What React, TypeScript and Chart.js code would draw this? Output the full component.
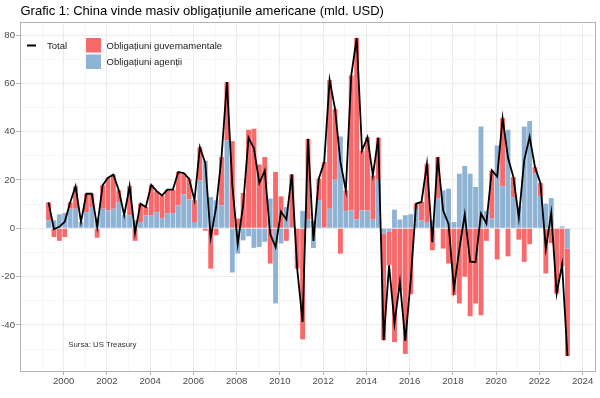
import React, { useEffect, useRef } from 'react';
import { Chart, registerables } from 'chart.js';

Chart.register(...registerables);

const FONT = "'Liberation Sans', Arial, sans-serif";

const TITLE = 'Grafic 1: China vinde masiv obligațiunile americane (mld. USD)';
const SOURCE = 'Sursa: US Treasury';
const LABEL_GOV = 'Obligațiuni guvernamentale';
const LABEL_AGENCY = 'Obligațiuni agenții';
const LABEL_TOTAL = 'Total';

const RED = '#F8696B';
const BLUE = '#8FB3D4';

// Quarters: 1999 T2 ... 2023 T2
const FIRST_YEAR = 1999;
const FIRST_QUARTER = 2;
const N_QUARTERS = 97;
const quarters: string[] = [];
for (let k = 0; k < N_QUARTERS; k++) {
  const q0 = FIRST_QUARTER - 1 + k;
  quarters.push(`${FIRST_YEAR + Math.floor(q0 / 4)}T${(q0 % 4) + 1}`);
}
const quarterToYear = (s: string) => {
  const [y, q] = s.split('T').map(Number);
  return y + (q - 1) * 0.25 + 0.05;
};

// Obligațiuni agenții (blue)
const agencies = [
  3.3, 3.3, 5.8, 6.3, 8.1, 8.1, 2.6, 6.7, 8.8, 4.4,
  8.1, 7.4, 8.1, 10.9, 5.4, 5.4, 3.3, 2.6, 5.4, 5.4,
  6.7, 4.0, 6.3, 6.3, 9.5, 14.0, 12.0, 2.6, 19.8, 28.0,
  12.9, 11.6, 9.5, 36.4, -18.3, -10.5, -5.0, -3.3, -8.1, -7.7,
  -5.6, 12.3, -31.1, -6.3, 8.8, 0.5, 0.0, 7.2, 3.6, -8.2,
  11.6, 0.5, 8.1, 20.1, 38.0, 7.2, 7.4, 3.6, 7.4, 7.4,
  3.6, 20.1, -2.2, -1.5, 7.7, 3.6, 5.4, 5.8, 8.0, 3.3,
  2.6, 3.3, 12.3, 15.7, 16.4, 2.6, 22.6, 25.8, 22.6, 17.1,
  42.1, 7.2, 4.0, 34.3, 17.4, 40.8, 12.9, 9.1, 42.1, 44.4,
  22.6, 13.2, 10.2, 12.5, 0.0, 0.8, -8.4,
];

// Obligațiuni guvernamentale (red)
const treasuries = [
  7.4, -3.6, -5.2, -3.6, 2.6, 9.3, 0.0, 7.6, 5.5, -3.9,
  9.7, 13.5, 14.1, 4.8, 0.0, 12.1, -5.2, 7.6, 3.4, 12.6,
  8.7, 9.6, 9.7, 9.7, 13.8, 8.9, 8.5, 9.0, 13.8, -1.0,
  -16.7, -2.9, 20.0, 24.1, 36.1, 4.0, 14.6, 40.8, 41.2, 26.4,
  29.5, -14.6, 23.3, 13.2, -5.2, 21.8, -16.7, -46.0, 33.4, 3.0,
  8.9, 26.9, 53.3, 29.3, -10.5, 8.5, 55.8, 75.2, 24.8, 30.3,
  18.3, 17.4, -44.1, -13.8, -47.1, -25.8, -52.0, -27.3, 2.2, 7.6,
  24.1, -9.1, 17.2, -8.4, -14.6, -27.7, -31.1, -20.1, -36.4, -31.1,
  -36.0, -5.2, 20.0, -12.9, 28.2, -11.6, 8.3, -4.7, -13.9, -6.6,
  2.7, 5.5, -18.7, -6.1, -27.0, -15.8, -44.5,
];

// Total (black line)
const totals = [
  10.7, -0.3, 0.6, 2.7, 10.7, 17.4, 2.6, 14.3, 14.3, 0.5,
  17.8, 20.9, 22.2, 15.7, 5.4, 17.5, -1.9, 10.2, 8.8, 18.0,
  15.4, 13.6, 16.0, 16.0, 23.3, 22.9, 20.5, 11.6, 33.6, 27.0,
  -3.8, 8.7, 29.5, 60.5, 17.8, -6.5, 9.6, 37.5, 33.1, 18.7,
  23.9, -2.3, -7.8, 6.9, 3.6, 22.3, -16.7, -38.8, 37.0, -5.2,
  20.5, 27.4, 61.4, 49.4, 27.5, 15.7, 63.2, 78.8, 32.2, 37.7,
  21.9, 37.5, -46.3, -15.3, -39.4, -22.2, -46.6, -21.5, 10.2, 10.9,
  26.7, -5.8, 29.5, 7.3, 1.8, -25.1, -8.5, 5.7, -13.8, -14.0,
  6.1, 2.0, 24.0, 21.4, 45.6, 29.2, 21.2, 4.4, 28.2, 37.8,
  25.3, 18.7, -8.5, 6.4, -27.0, -15.0, -52.9,
];

const xTickValues = [1999, 2000, 2001, 2002, 2003, 2004, 2005, 2006, 2007, 2008, 2009, 2010, 2011, 2012, 2013, 2014, 2015, 2016, 2017, 2018, 2019, 2020, 2021, 2022, 2023, 2024];
const xLabelled = [2000, 2002, 2004, 2006, 2008, 2010, 2012, 2014, 2016, 2018, 2020, 2022, 2024];
const yTickValues = [-50, -40, -30, -20, -10, 0, 10, 20, 30, 40, 50, 60, 70, 80];
const yLabelled = [-40, -20, 0, 20, 40, 60, 80];

const X_MIN = 1997.98;
const X_MAX = 2024.62;
const Y_MIN = -59.5;
const Y_MAX = 85.4;

const decorPlugin = {
  id: 'decor',
  beforeDraw(chart: any) {
    const { ctx, width, height } = chart;
    ctx.save();
    ctx.fillStyle = '#ffffff';
    ctx.fillRect(0, 0, width, height);
    ctx.restore();
  },
  afterDraw(chart: any) {
    const { ctx, chartArea: a } = chart;
    ctx.save();
    // panel border
    ctx.strokeStyle = '#b3b3b3';
    ctx.lineWidth = 1;
    ctx.strokeRect(a.left + 0.5, a.top + 0.5, a.right - a.left - 1, a.bottom - a.top - 1);

    // title
    ctx.fillStyle = '#000000';
    ctx.textBaseline = 'alphabetic';
    ctx.textAlign = 'left';
    ctx.font = `13px ${FONT}`;
    ctx.fillText(TITLE, 20.5, 15);

    // legend
    ctx.strokeStyle = '#000000';
    ctx.lineWidth = 2;
    ctx.beginPath();
    ctx.moveTo(27, 45.5);
    ctx.lineTo(36, 45.5);
    ctx.stroke();
    ctx.font = `9.5px ${FONT}`;
    ctx.fillStyle = '#1a1a1a';
    ctx.fillText(LABEL_TOTAL, 47, 48.5);

    ctx.fillStyle = RED;
    ctx.fillRect(86, 38, 15, 14.5);
    ctx.fillStyle = BLUE;
    ctx.fillRect(86, 54.5, 15, 14.5);
    ctx.fillStyle = '#1a1a1a';
    ctx.fillText(LABEL_GOV, 106.5, 48.5);
    ctx.fillText(LABEL_AGENCY, 106.5, 65);

    // source
    ctx.font = `7.8px ${FONT}`;
    ctx.fillStyle = '#333333';
    ctx.fillText(SOURCE, 68.3, 347.3);
    ctx.restore();
  },
};

export default function App() {
  const canvasRef = useRef<HTMLCanvasElement | null>(null);

  useEffect(() => {
    const canvas = canvasRef.current;
    if (!canvas) return;
    const xs = quarters.map(quarterToYear);

    const chart = new Chart(canvas, {
      type: 'bar',
      data: {
        datasets: [
          {
            type: 'bar',
            label: LABEL_AGENCY,
            data: agencies.map((v, i) => ({ x: xs[i], y: v })),
            backgroundColor: BLUE,
            barPercentage: 0.9,
            categoryPercentage: 1,
            order: 1,
            stack: 'bars',
          } as any,
          {
            type: 'bar',
            label: LABEL_GOV,
            data: treasuries.map((v, i) => ({ x: xs[i], y: v })),
            backgroundColor: RED,
            barPercentage: 0.9,
            categoryPercentage: 1,
            order: 1,
            stack: 'bars',
          } as any,
          {
            type: 'line',
            label: LABEL_TOTAL,
            data: totals.map((v, i) => ({ x: xs[i], y: v })),
            borderColor: '#000000',
            borderWidth: 1.8,
            pointRadius: 0,
            tension: 0,
            fill: false,
            order: 0,
            stack: 'total',
          } as any,
        ],
      },
      options: {
        responsive: false,
        animation: false,
        devicePixelRatio: 1,
        layout: { padding: { top: 22, right: 4, left: 0, bottom: 0 } },
        plugins: {
          legend: { display: false },
          tooltip: { enabled: false },
          title: { display: false },
        },
        scales: {
          x: {
            type: 'linear',
            stacked: true,
            offset: false,
            min: X_MIN,
            max: X_MAX,
            afterBuildTicks: (s: any) => {
              s.ticks = xTickValues.map((v) => ({ value: v }));
            },
            afterFit: (s: any) => {
              s.height = 26;
            },
            border: { display: false },
            grid: {
              offset: false,
              color: (c: any) => (c.tick && xLabelled.includes(c.tick.value) ? '#ebebeb' : '#f6f6f6'),
              tickColor: (c: any) => (c.tick && xLabelled.includes(c.tick.value) ? '#b3b3b3' : 'rgba(0,0,0,0)'),
              tickLength: 3,
              lineWidth: 1,
            },
            ticks: {
              autoSkip: false,
              maxRotation: 0,
              padding: 1,
              color: '#4d4d4d',
              font: { family: FONT, size: 9.6 },
              callback: (v: any) => (xLabelled.includes(Number(v)) ? String(v) : ''),
            },
          },
          y: {
            stacked: true,
            min: Y_MIN,
            max: Y_MAX,
            afterBuildTicks: (s: any) => {
              s.ticks = yTickValues.map((v) => ({ value: v }));
            },
            afterFit: (s: any) => {
              s.width = 20;
            },
            border: { display: false },
            grid: {
              color: (c: any) => (c.tick && yLabelled.includes(c.tick.value) ? '#ebebeb' : '#f6f6f6'),
              tickColor: (c: any) => (c.tick && yLabelled.includes(c.tick.value) ? '#b3b3b3' : 'rgba(0,0,0,0)'),
              tickLength: 4,
              lineWidth: 1,
            },
            ticks: {
              autoSkip: false,
              padding: 1,
              color: '#4d4d4d',
              font: { family: FONT, size: 9.6 },
              callback: (v: any) => (yLabelled.includes(Number(v)) ? String(v) : ''),
            },
          },
        },
      } as any,
      plugins: [decorPlugin],
    });

    return () => {
      chart.destroy();
    };
  }, []);

  return (
    <div style={{ position: 'fixed', left: 0, top: 0, width: 600, height: 398, background: '#ffffff' }}>
      <canvas ref={canvasRef} width={600} height={398} style={{ display: 'block', width: 600, height: 398 }} />
    </div>
  );
}
